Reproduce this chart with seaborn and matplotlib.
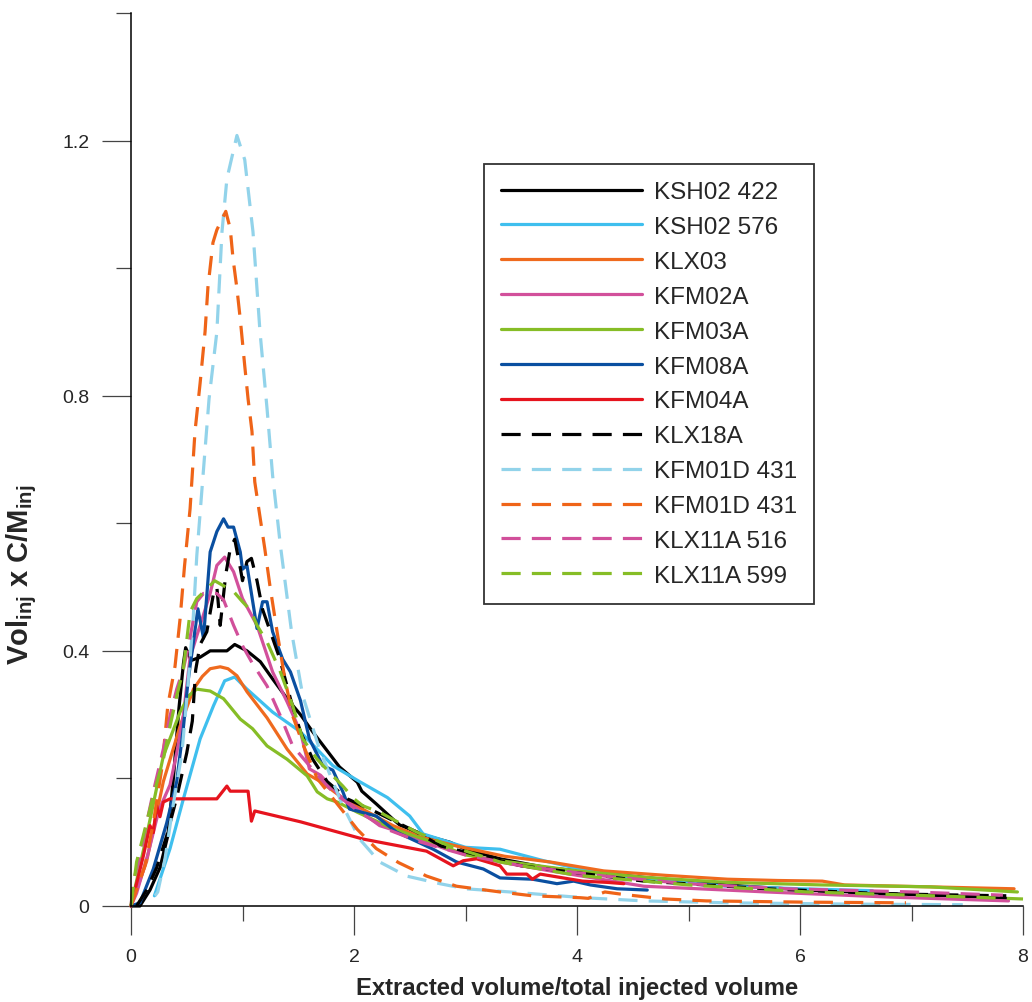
import numpy as np
import pandas as pd
import matplotlib
matplotlib.use("Agg")
import matplotlib.pyplot as plt
import seaborn as sns

# ---------------- data ----------------
labels = ["KSH02 422", "KSH02 576", "KLX03", "KFM02A", "KFM03A", "KFM08A", "KFM04A",
          "KLX18A", "KFM01D 431", "KFM01D 431", "KLX11A 516", "KLX11A 599"]

ksh02_422_x = [0, 0.08, 0.17, 0.26, 0.33, 0.38, 0.43, 0.47, 0.49, 0.54, 0.62, 0.71, 0.86, 0.93, 1.04, 1.16, 1.27, 1.40, 1.52, 1.63, 1.87, 2.03, 2.07, 2.2, 2.35, 2.41, 2.65, 2.86, 3.0, 3.31, 3.73, 4.3, 5.0, 5.5, 6.07, 6.6, 7.0, 7.5, 7.85]
ksh02_422_y = [0, 0.0, 0.025, 0.06, 0.11, 0.2, 0.31, 0.38, 0.405, 0.385, 0.39, 0.40, 0.40, 0.41, 0.40, 0.383, 0.356, 0.325, 0.30, 0.273, 0.218, 0.194, 0.18, 0.16, 0.136, 0.127, 0.11, 0.10, 0.089, 0.074, 0.06, 0.05, 0.038, 0.031, 0.025, 0.021, 0.018, 0.015, 0.012]

ksh02_576_x = [0.21, 0.35, 0.47, 0.62, 0.74, 0.84, 0.93, 1.04, 1.27, 1.52, 1.81, 2.05, 2.3, 2.5, 2.62, 3.0, 3.31, 3.7, 4.1, 4.6, 5.35, 6.0, 6.65]
ksh02_576_y = [0.016, 0.09, 0.168, 0.262, 0.314, 0.353, 0.359, 0.34, 0.304, 0.273, 0.22, 0.195, 0.170, 0.141, 0.113, 0.092, 0.089, 0.071, 0.055, 0.042, 0.031, 0.027, 0.024]

klx03_x = [0, 0.14, 0.29, 0.44, 0.56, 0.64, 0.71, 0.80, 0.87, 0.95, 1.04, 1.22, 1.40, 1.58, 1.70, 1.87, 1.96, 2.35, 2.6, 2.92, 3.35, 3.76, 4.24, 4.8, 5.35, 5.8, 6.2, 6.4, 7.17, 7.92]
klx03_y = [0, 0.07, 0.195, 0.282, 0.34, 0.36, 0.372, 0.375, 0.372, 0.361, 0.336, 0.295, 0.246, 0.207, 0.195, 0.173, 0.163, 0.126, 0.108, 0.094, 0.078, 0.069, 0.055, 0.048, 0.042, 0.04, 0.039, 0.033, 0.03, 0.027]

kfm02a_x = [0, 0.05, 0.15, 0.25, 0.35, 0.41, 0.47, 0.53, 0.62, 0.71, 0.77, 0.84, 0.92, 1.0, 1.13, 1.27, 1.40, 1.52, 1.6, 1.70, 1.87, 2.03, 2.23, 2.41, 2.83, 3.31, 3.76, 4.6, 5.7, 6.8, 7.87]
kfm02a_y = [0, 0.02, 0.08, 0.15, 0.19, 0.24, 0.3, 0.39, 0.44, 0.49, 0.534, 0.547, 0.524, 0.482, 0.44, 0.367, 0.32, 0.273, 0.215, 0.205, 0.173, 0.152, 0.126, 0.116, 0.089, 0.069, 0.055, 0.031, 0.022, 0.014, 0.008]

kfm03a_x = [0, 0.14, 0.29, 0.44, 0.52, 0.59, 0.71, 0.83, 0.98, 1.09, 1.22, 1.40, 1.58, 1.67, 1.76, 1.85, 2.03, 2.35, 2.71, 3.0, 3.31, 4.0, 4.6, 5.35, 6.2, 7.17, 7.95]
kfm03a_y = [0, 0.11, 0.235, 0.304, 0.33, 0.34, 0.337, 0.325, 0.293, 0.278, 0.251, 0.23, 0.204, 0.179, 0.168, 0.163, 0.147, 0.121, 0.1, 0.08, 0.071, 0.055, 0.045, 0.037, 0.033, 0.03, 0.022]

kfm08a_x = [0, 0.08, 0.2, 0.32, 0.41, 0.47, 0.51, 0.6, 0.65, 0.71, 0.77, 0.83, 0.87, 0.92, 0.98, 1.0, 1.04, 1.13, 1.18, 1.22, 1.27, 1.36, 1.43, 1.52, 1.6, 1.72, 1.81, 1.9, 1.96, 2.2, 2.38, 2.71, 2.92, 3.16, 3.31, 3.6, 3.76, 3.82, 3.97, 4.12, 4.36, 4.63]
kfm08a_y = [0, 0.005, 0.058, 0.13, 0.195, 0.28, 0.35, 0.466, 0.42, 0.555, 0.587, 0.607, 0.594, 0.594, 0.555, 0.528, 0.534, 0.435, 0.477, 0.477, 0.43, 0.387, 0.367, 0.322, 0.262, 0.22, 0.213, 0.179, 0.152, 0.141, 0.116, 0.089, 0.069, 0.058, 0.044, 0.042, 0.037, 0.035, 0.039, 0.033, 0.027, 0.025]

kfm04a_x = [0, 0.11, 0.17, 0.2, 0.23, 0.26, 0.29, 0.35, 0.77, 0.86, 0.89, 1.05, 1.08, 1.11, 1.52, 2.08, 2.65, 2.89, 2.98, 3.1, 3.31, 3.37, 3.55, 3.6, 3.67, 4.05, 4.27, 4.42]
kfm04a_y = [0, 0.078, 0.126, 0.115, 0.157, 0.14, 0.163, 0.168, 0.168, 0.188, 0.18, 0.18, 0.133, 0.149, 0.132, 0.105, 0.086, 0.063, 0.071, 0.074, 0.063, 0.05, 0.05, 0.042, 0.05, 0.039, 0.037, 0.035]

klx18a_x = [0.05, 0.14, 0.23, 0.32, 0.41, 0.5, 0.55, 0.58, 0.62, 0.68, 0.74, 0.77, 0.8, 0.85, 0.89, 0.93, 0.98, 1.0, 1.04, 1.08, 1.13, 1.18, 1.25, 1.33, 1.43, 1.52, 1.63, 1.76, 1.94, 2.2, 2.56, 2.78, 3.5, 4.6, 5.7, 6.8, 7.85]
klx18a_y = [0, 0.025, 0.06, 0.11, 0.17, 0.24, 0.29, 0.37, 0.41, 0.43, 0.49, 0.5, 0.44, 0.52, 0.56, 0.575, 0.53, 0.51, 0.54, 0.545, 0.51, 0.465, 0.43, 0.39, 0.325, 0.273, 0.23, 0.195, 0.168, 0.147, 0.116, 0.094, 0.063, 0.039, 0.027, 0.019, 0.016]

kfm01d_a_x = [0.215, 0.24, 0.305, 0.377, 0.457, 0.51, 0.556, 0.59, 0.646, 0.70, 0.77, 0.816, 0.86, 0.95, 1.02, 1.094, 1.157, 1.22, 1.27, 1.34, 1.44, 1.54, 1.69, 1.90, 2.05, 2.23, 2.47, 2.77, 3.0, 3.4, 4.06, 4.6, 5.35, 6.44, 7.46]
kfm01d_a_y = [0.016, 0.022, 0.074, 0.157, 0.24, 0.345, 0.445, 0.549, 0.675, 0.795, 0.90, 1.057, 1.14, 1.208, 1.17, 1.057, 0.90, 0.78, 0.675, 0.565, 0.43, 0.33, 0.246, 0.157, 0.105, 0.069, 0.047, 0.035, 0.027, 0.022, 0.013, 0.008, 0.005, 0.003, 0.002]

kfm01d_b_x = [0, 0.125, 0.20, 0.28, 0.33, 0.395, 0.44, 0.48, 0.53, 0.574, 0.62, 0.664, 0.69, 0.735, 0.77, 0.85, 0.89, 0.915, 0.95, 0.98, 1.02, 1.05, 1.085, 1.11, 1.157, 1.20, 1.246, 1.31, 1.38, 1.45, 1.55, 1.67, 1.85, 2.03, 2.2, 2.4, 2.65, 2.92, 3.31, 3.6, 4.03, 4.1, 4.25, 4.42, 4.79, 5.16, 6.07, 6.95]
kfm01d_b_y = [0, 0.063, 0.13, 0.22, 0.314, 0.376, 0.45, 0.533, 0.623, 0.744, 0.82, 0.90, 0.97, 1.04, 1.06, 1.089, 1.062, 1.015, 0.968, 0.92, 0.847, 0.795, 0.744, 0.665, 0.61, 0.56, 0.502, 0.43, 0.356, 0.298, 0.25, 0.2, 0.16, 0.12, 0.09, 0.068, 0.047, 0.031, 0.022, 0.016, 0.013, 0.012, 0.022, 0.018, 0.011, 0.008, 0.006, 0.005]

klx11a_516_x = [0, 0.02, 0.08, 0.14, 0.2, 0.29, 0.35, 0.41, 0.47, 0.51, 0.59, 0.65, 0.71, 0.77, 0.83, 0.92, 1.0, 1.09, 1.22, 1.34, 1.45, 1.6, 1.7, 1.81, 2.05, 2.3, 2.6, 3.0, 3.5, 4.24, 4.98, 5.88, 7.01, 7.82]
klx11a_516_y = [0, 0.038, 0.078, 0.13, 0.179, 0.246, 0.298, 0.34, 0.372, 0.403, 0.477, 0.49, 0.49, 0.49, 0.48, 0.44, 0.408, 0.38, 0.345, 0.298, 0.251, 0.22, 0.2, 0.179, 0.147, 0.12, 0.1, 0.08, 0.063, 0.047, 0.035, 0.027, 0.022, 0.017]

klx11a_599_x = [0, 0.05, 0.11, 0.2, 0.29, 0.35, 0.41, 0.47, 0.53, 0.59, 0.68, 0.75, 0.83, 0.92, 1.0, 1.07, 1.13, 1.22, 1.34, 1.45, 1.54, 1.67, 1.81, 1.9, 2.0, 2.08, 2.23, 2.56, 2.86, 3.31, 4.0, 5.0, 6.07, 7.0, 7.53, 8.0]
klx11a_599_y = [0, 0.069, 0.11, 0.173, 0.23, 0.282, 0.329, 0.372, 0.461, 0.482, 0.497, 0.51, 0.502, 0.493, 0.477, 0.464, 0.44, 0.414, 0.367, 0.314, 0.262, 0.23, 0.204, 0.188, 0.168, 0.157, 0.147, 0.116, 0.094, 0.069, 0.048, 0.033, 0.022, 0.017, 0.014, 0.011]

x_ticks = [0, 2, 4, 6, 8]
x_tick_labels = ["0", "2", "4", "6", "8"]
y_ticks = [0, 0.4, 0.8, 1.2]
y_tick_labels = ["0", "0.4", "0.8", "1.2"]

series_x = [ksh02_422_x, ksh02_576_x, klx03_x, kfm02a_x, kfm03a_x, kfm08a_x, kfm04a_x,
            klx18a_x, kfm01d_a_x, kfm01d_b_x, klx11a_516_x, klx11a_599_x]
series_y = [ksh02_422_y, ksh02_576_y, klx03_y, kfm02a_y, kfm03a_y, kfm08a_y, kfm04a_y,
            klx18a_y, kfm01d_a_y, kfm01d_b_y, klx11a_516_y, klx11a_599_y]

colors = ["#000000", "#3fbfee", "#ef6a1e", "#d2509b", "#86bd26", "#0a4fa0", "#e6141e",
          "#000000", "#92d3ea", "#ef6418", "#d14f9a", "#86bd26"]
dashed = [False] * 7 + [True] * 5

# ---------------- style ----------------
sns.set_style("white")
plt.rcParams["font.family"] = ["Liberation Sans", "DejaVu Sans"]
plt.rcParams["mathtext.fontset"] = "custom"
plt.rcParams["mathtext.bf"] = "Liberation Sans:bold"
plt.rcParams["mathtext.rm"] = "Liberation Sans:bold"

fig = plt.figure(figsize=(10.32, 10.03), dpi=100)
ax = fig.add_axes([131 / 1032, 1 - 907 / 1003, (1023 - 131) / 1032, (907 - 14) / 1003])

handles = []
for i, lab in enumerate(labels):
    df = pd.DataFrame({"x": series_x[i], "y": series_y[i]})
    ls = (0, (6, 3.5)) if dashed[i] else "-"
    sns.lineplot(data=df, x="x", y="y", ax=ax, color=colors[i], linewidth=2.3,
                 linestyle=ls, sort=False, estimator=None, legend=False, clip_on=False)
    line = ax.lines[-1]
    line.set_label(lab)
    handles.append(line)

ax.set_xlim(0, 8)
ax.set_ylim(0, 1.4)

for s in ["top", "right"]:
    ax.spines[s].set_visible(False)
for s in ["left", "bottom"]:
    ax.spines[s].set_color("#000000")
    ax.spines[s].set_linewidth(1.1)

ax.set_xticks(x_ticks)
ax.set_xticklabels(x_tick_labels)
ax.set_yticks(y_ticks)
ax.set_yticklabels(y_tick_labels)
ax.set_xticks([1, 3, 5, 7], minor=True)
ax.set_yticks([0.2, 0.6, 1.0, 1.4], minor=True)
ax.tick_params(axis="both", which="major", direction="out", length=21, width=0.9,
               color="#444444", labelsize=14, pad=9, bottom=True, left=True)
ax.tick_params(axis="both", which="minor", direction="out", length=10.5, width=0.9,
               color="#444444", bottom=True, left=True)

ax.set_xlabel("Extracted volume/total injected volume", fontsize=17.2, fontweight="bold",
              family="Liberation Sans", labelpad=8)
ax.set_ylabel(r"Vol$_{\mathbf{inj}}$ x C/M$_{\mathbf{inj}}$", fontsize=21, fontweight="bold",
              family="Liberation Sans")
ax.yaxis.set_label_coords((39 - 131) / 892, (907 - 575) / 893)

leg = ax.legend(handles=handles, labels=labels, loc="upper left",
                bbox_to_anchor=((484 - 131) / (1023 - 131), (907 - 165) / (907 - 14)),
                borderaxespad=0, fontsize=17.5, handlelength=5.8, handletextpad=0.5,
                labelspacing=0.53, frameon=True, fancybox=False, borderpad=0.7)
leg.get_frame().set_edgecolor("#000000")
leg.get_frame().set_linewidth(1.3)

fig.savefig("out.png", dpi=100)
